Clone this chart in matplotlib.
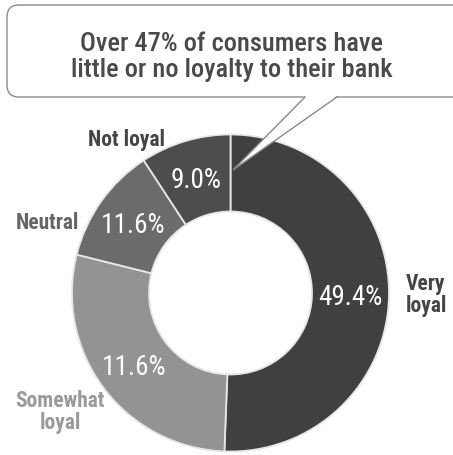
import matplotlib
matplotlib.use("Agg")
import matplotlib.pyplot as plt
from matplotlib.patches import FancyBboxPatch, Polygon
import numpy as np

plt.rcParams['font.family'] = ['Roboto Condensed', 'DejaVu Sans']

# Loyalty segments (clockwise from 12 o'clock)
categories = ["Very\nloyal", "Somewhat\nloyal", "Neutral", "Not loyal"]
shares = [49.4, 27.6, 11.6, 9.0]
pct_labels = ["49.4%", "11.6%", "11.6%", "9.0%"]
callout_text = "Over 47% of consumers have\nlittle or no loyalty to their bank"

wedge_colors = ["#404040", "#939393", "#6b6b6b", "#4d4d4d"]
cat_colors = ["#454545", "#9a9a9a", "#666666", "#454545"]

W, H = 453, 455
fig = plt.figure(figsize=(W / 100, H / 100), dpi=100)
ax = fig.add_axes([0, 0, 1, 1])

cx, cy = 230.5, H - 293
r_out, r_in = 158.5, 81.5

wedges, _ = ax.pie(shares, radius=r_out, center=(cx, cy), startangle=90,
                   counterclock=False, colors=wedge_colors,
                   wedgeprops=dict(width=r_out - r_in, edgecolor="#e6e6e6",
                                   linewidth=1.3), frame=True)
ax.set_xlim(0, W)
ax.set_ylim(0, H)
ax.set_aspect('equal')
ax.axis('off')

# Percent labels at the middle of each ring segment
r_mid = (r_out + r_in) / 2
for w, txt in zip(wedges, pct_labels):
    ang = np.deg2rad((w.theta1 + w.theta2) / 2)
    ax.text(cx + r_mid * np.cos(ang), cy + r_mid * np.sin(ang) - 2, txt,
            color="white", fontsize=19.5, ha="center", va="center", zorder=5)

# Category names around the ring
cat_pos = [(426, 295), (60, 412), (47, 223), (126, 140)]
for (px, py), name, col in zip(cat_pos, categories, cat_colors):
    ax.text(px, H - py, name, color=col, fontsize=15.5, fontweight="bold",
            ha="center", va="center", linespacing=1.0, zorder=5)

# Speech-bubble callout
box = FancyBboxPatch((7, H - 97), 480, 92,
                     boxstyle="round,pad=0,rounding_size=12",
                     facecolor="white", edgecolor="#8a8a8a", linewidth=1.0,
                     zorder=6)
ax.add_patch(box)
tip = (233, H - 170)
base_l = (305, H - 97)
base_r = (337, H - 97)
ax.add_patch(Polygon([(base_l[0] + 0.5, base_l[1] + 1), tip, (base_r[0] - 0.5, base_r[1] + 1)],
                     closed=True, facecolor="white", edgecolor="none", zorder=7))
ax.plot([base_l[0], tip[0], base_r[0]], [base_l[1], tip[1], base_r[1]],
        color="#8a8a8a", linewidth=1.0, zorder=8, solid_joinstyle="miter")
ax.text(232, H - 57, callout_text, color="#4a4a4a", fontsize=19,
        fontweight="medium", ha="center", va="center", linespacing=1.15,
        zorder=9)

fig.savefig("out.png", dpi=100, facecolor="white")
